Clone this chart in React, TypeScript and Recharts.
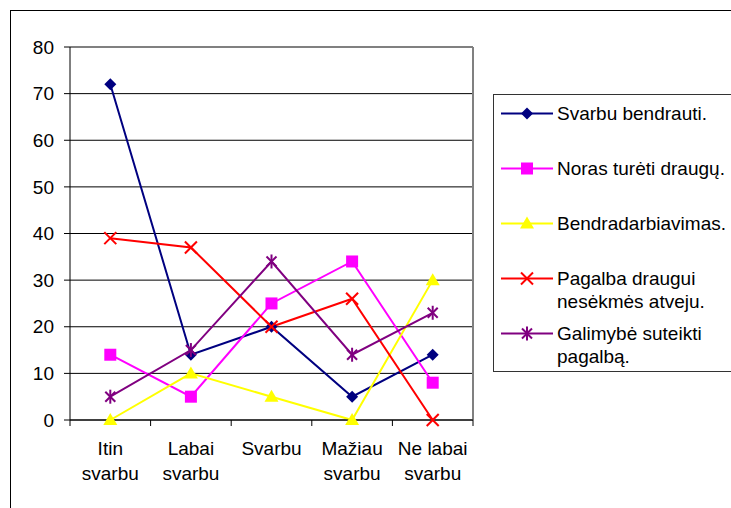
import React from "react";
import {
  LineChart,
  Line,
  XAxis,
  YAxis,
  CartesianGrid,
  Legend,
} from "recharts";

const categories = ["Itin\nsvarbu", "Labai\nsvarbu", "Svarbu", "Mažiau\nsvarbu", "Ne labai\nsvarbu"];
const svarbuBendrauti = [72, 14, 20, 5, 14];
const norasTuretiDraugu = [14, 5, 25, 34, 8];
const bendradarbiavimas = [0, 10, 5, 0, 30];
const pagalbaDraugui = [39, 37, 20, 26, 0];
const galimybeSuteikti = [5, 15, 34, 14, 23];
const yTicks = [0, 10, 20, 30, 40, 50, 60, 70, 80];

const series = [
  { key: "s1", name: "Svarbu bendrauti.", values: svarbuBendrauti, color: "#000080", shape: "diamond" },
  { key: "s2", name: "Noras turėti draugų.", values: norasTuretiDraugu, color: "#FF00FF", shape: "square" },
  { key: "s3", name: "Bendradarbiavimas.", values: bendradarbiavimas, color: "#FFFF00", shape: "triangle" },
  { key: "s4", name: "Pagalba draugui\nnesėkmės atveju.", values: pagalbaDraugui, color: "#FF0000", shape: "x" },
  { key: "s5", name: "Galimybė suteikti\npagalbą.", values: galimybeSuteikti, color: "#800080", shape: "star" },
];

const data = categories.map((cat, i) => {
  const row: Record<string, string | number> = { cat };
  series.forEach((s) => (row[s.key] = s.values[i]));
  return row;
});

const W = 731;
const H = 508;
const X_H = 30;
const M = { top: 47, right: 258, bottom: 88 - X_H, left: 0 };
const Y_W = 70;
const FONT = "'Liberation Sans', Arial, sans-serif";
const plotW = W - M.left - M.right - Y_W;
const band = plotW / categories.length;

function Marker({ shape, color, cx, cy }: { shape: string; color: string; cx: number; cy: number }) {
  if (shape === "diamond") {
    return <polygon points={`${cx},${cy - 6} ${cx + 6},${cy} ${cx},${cy + 6} ${cx - 6},${cy}`} fill={color} />;
  }
  if (shape === "square") {
    return <rect x={cx - 6} y={cy - 6} width={12} height={12} fill={color} />;
  }
  if (shape === "triangle") {
    return <polygon points={`${cx},${cy - 7} ${cx + 7},${cy + 5} ${cx - 7},${cy + 5}`} fill={color} />;
  }
  if (shape === "x") {
    return (
      <g stroke={color} strokeWidth={2}>
        <line x1={cx - 6} y1={cy - 6} x2={cx + 6} y2={cy + 6} />
        <line x1={cx - 6} y1={cy + 6} x2={cx + 6} y2={cy - 6} />
      </g>
    );
  }
  return (
    <g stroke={color} strokeWidth={2}>
      <line x1={cx - 5} y1={cy - 5} x2={cx + 5} y2={cy + 5} />
      <line x1={cx - 5} y1={cy + 5} x2={cx + 5} y2={cy - 5} />
      <line x1={cx} y1={cy - 7} x2={cx} y2={cy + 7} />
    </g>
  );
}

function CategoryTick(props: any) {
  const { x, y, payload, index, visibleTicksCount } = props;
  const lines = String(payload.value).split("\n");
  return (
    <g>
      <line x1={x - band / 2} y1={y} x2={x - band / 2} y2={y + 6} stroke="#000" />
      {index === visibleTicksCount - 1 && (
        <line x1={x + band / 2} y1={y} x2={x + band / 2} y2={y + 6} stroke="#000" />
      )}
      {lines.map((l, i) => (
        <text
          key={i}
          x={x}
          y={y + 28 + i * 25}
          textAnchor="middle"
          dominantBaseline="central"
          fontSize={19}
          fontFamily={FONT}
          fill="#000"
        >
          {l}
        </text>
      ))}
    </g>
  );
}

function LegendBox() {
  return (
    <div
      style={{
        position: "relative",
        width: 260,
        height: 278,
        border: "1px solid #333",
        background: "#fff",
        fontFamily: FONT,
        fontSize: 19,
        color: "#000",
        boxSizing: "border-box",
      }}
    >
      {series.map((s, i) => (
        <div key={s.key} style={{ position: "absolute", left: 0, top: 7 + i * 55, width: 260 }}>
          <svg width={60} height={23} style={{ position: "absolute", left: 6, top: 0 }}>
            <line x1={1} y1={11.5} x2={53} y2={11.5} stroke={s.color} strokeWidth={2} />
            <Marker shape={s.shape} color={s.color} cx={27} cy={11.5} />
          </svg>
          <div style={{ position: "absolute", left: 63, top: 0, lineHeight: "23px", whiteSpace: "pre" }}>
            {s.name}
          </div>
        </div>
      ))}
    </div>
  );
}

export default function App() {
  return (
    <div
      style={{
        position: "absolute",
        left: 0,
        top: 0,
        width: W,
        height: H,
        overflow: "hidden",
        background: "#fff",
      }}
    >
      <div
        style={{
          position: "absolute",
          left: 10,
          top: 10,
          width: 800,
          height: 600,
          border: "1px solid #000",
        }}
      />
      <div style={{ position: "absolute", left: 0, top: 0 }}>
        <LineChart width={W} height={H} data={data} margin={M} style={{ fontFamily: FONT }}>
          <CartesianGrid vertical={false} stroke="#000" strokeWidth={1} />
          <CartesianGrid
            stroke="#808080"
            strokeWidth={2}
            horizontalCoordinatesGenerator={({ offset }: any) => [offset.top]}
            verticalCoordinatesGenerator={({ offset }: any) => [offset.left + offset.width]}
          />
          <XAxis
            dataKey="cat"
            height={X_H}
            interval={0}
            padding={{ left: band / 2, right: band / 2 }}
            tickLine={false}
            tickSize={0}
            tickMargin={0}
            axisLine={{ stroke: "#000" }}
            tick={<CategoryTick />}
          />
          <YAxis
            width={Y_W}
            domain={[0, 80]}
            ticks={yTicks}
            interval={0}
            tickSize={6}
            tickMargin={10}
            axisLine={{ stroke: "#000" }}
            tickLine={{ stroke: "#000" }}
            tick={{ fontSize: 19, fill: "#000", fontFamily: FONT }}
          />
          <Legend
            layout="vertical"
            align="center"
            verticalAlign="middle"
            wrapperStyle={{ left: 493, top: 94, width: 260 }}
            content={<LegendBox />}
          />
          {series.map((s) => (
            <Line
              key={s.key}
              dataKey={s.key}
              name={s.name}
              stroke={s.color}
              strokeWidth={2}
              type="linear"
              isAnimationActive={false}
              activeDot={false}
              dot={(p: any) => <Marker key={`${s.key}-${p.index}`} shape={s.shape} color={s.color} cx={p.cx} cy={p.cy} />}
            />
          ))}
        </LineChart>
      </div>
    </div>
  );
}
